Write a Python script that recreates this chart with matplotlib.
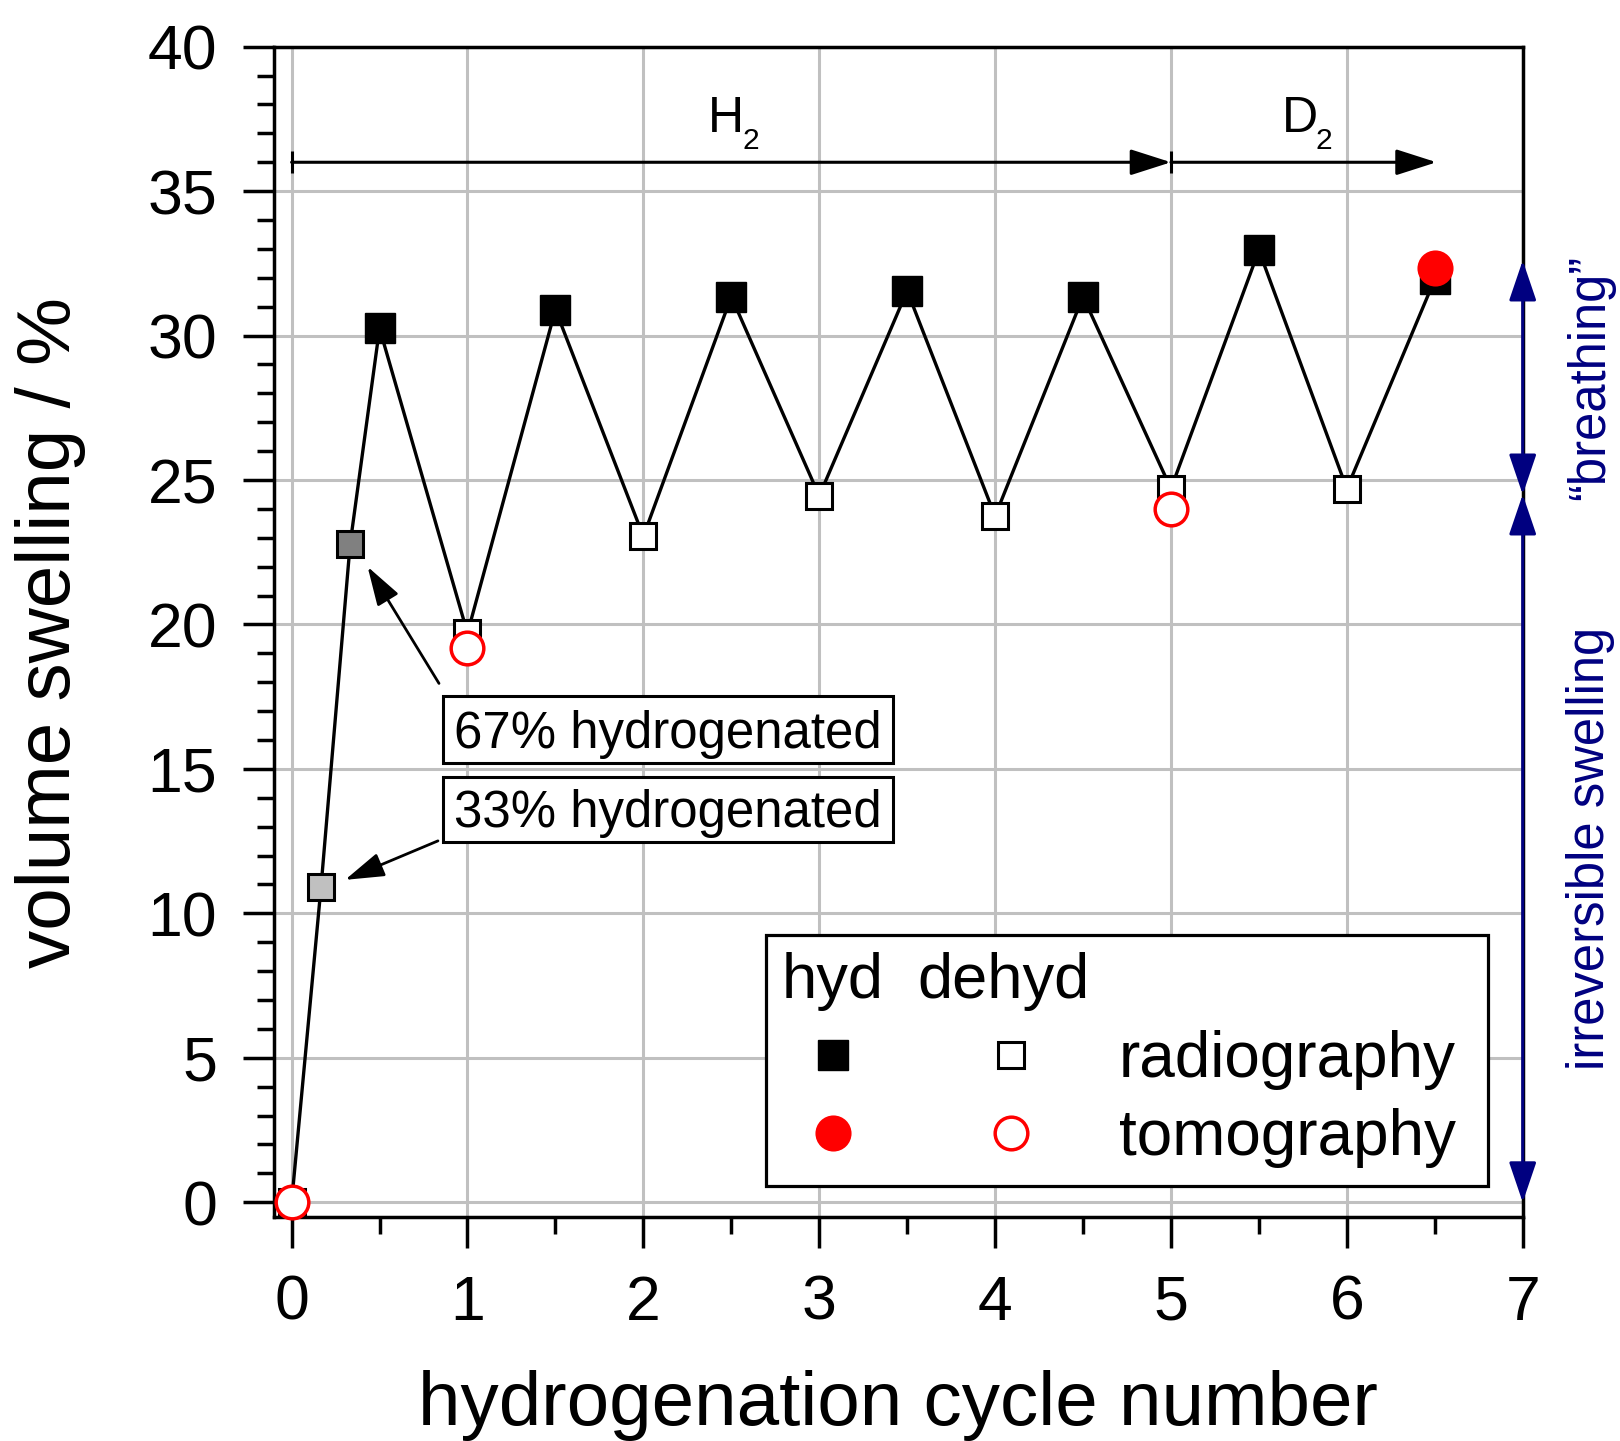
import matplotlib
matplotlib.use('Agg')
import matplotlib.pyplot as plt
from matplotlib.patches import Rectangle, ArrowStyle

plt.rcParams['font.family'] = ['Liberation Sans', 'DejaVu Sans']

# ---------------- data ----------------
hyd_cycle = [0.5, 1.5, 2.5, 3.5, 4.5, 5.5, 6.5]
hyd_radio = [30.25, 30.9, 31.35, 31.55, 31.35, 32.95, 31.95]
dehyd_cycle = [0, 1, 2, 3, 4, 5, 6]
dehyd_radio = [0, 19.7, 23.05, 24.45, 23.75, 24.7, 24.7]
partial_cycle = [0.167, 0.333]
partial_radio = [10.9, 22.8]
partial_colors = ['#C0C0C0', '#808080']
tomo_dehyd_cycle = [0, 1, 5]
tomo_dehyd = [0, 19.2, 24.0]
tomo_hyd_cycle = [6.5]
tomo_hyd = [32.35]

x_ticks = [0, 1, 2, 3, 4, 5, 6, 7]
y_ticks = [0, 5, 10, 15, 20, 25, 30, 35, 40]

NAVY = '#000080'

fig = plt.figure(figsize=(16.2, 14.41), dpi=100)
ax = fig.add_axes([0.16883, 0.15524, 0.77111, 0.81235])
ax.set_xlim(-0.103, 7)
ax.set_ylim(-0.52, 40)

# connecting line through radiography points in cycle order
pairs = sorted(zip(hyd_cycle + dehyd_cycle + partial_cycle,
                   hyd_radio + dehyd_radio + partial_radio))
ax.plot([p[0] for p in pairs], [p[1] for p in pairs], color='black', lw=2.4, zorder=3)

ax.plot(hyd_cycle, hyd_radio, ls='none', marker='s', ms=22, mfc='black', mec='black', mew=1, zorder=4)
ax.plot(dehyd_cycle, dehyd_radio, ls='none', marker='s', ms=19, mfc='white', mec='black', mew=2.2, zorder=4)
for xc, yc, col in zip(partial_cycle, partial_radio, partial_colors):
    ax.plot([xc], [yc], ls='none', marker='s', ms=19, mfc=col, mec='black', mew=2.2, zorder=4)
ax.plot(tomo_dehyd_cycle, tomo_dehyd, ls='none', marker='o', ms=23.5, mfc='white', mec='red', mew=2.5,
        zorder=5, clip_on=False)
ax.plot(tomo_hyd_cycle, tomo_hyd, ls='none', marker='o', ms=26, mfc='red', mec='red', mew=0, zorder=5)

# axes styling
ax.set_xticks(x_ticks)
ax.set_xticklabels([str(v) for v in x_ticks])
ax.set_yticks(y_ticks)
ax.set_yticklabels([str(v) for v in y_ticks])
ax.set_xticks([v + 0.5 for v in x_ticks[:-1]], minor=True)
ax.set_yticks([v for v in range(0, 41) if v % 5 != 0], minor=True)
ax.tick_params(which='both', direction='out', top=False, right=False, width=2.5, labelsize=45)
ax.tick_params(which='major', length=22.5)
ax.tick_params(which='minor', length=12.2)
ax.tick_params(axis='x', which='major', pad=18)
ax.tick_params(axis='y', which='major', pad=18)
ax.grid(True, which='major', color='#C0C0C0', lw=2.2)
ax.set_axisbelow(True)
for s in ax.spines.values():
    s.set_linewidth(2.5)

ax.set_xlabel('hydrogenation cycle number', fontsize=55, labelpad=27)
ax.set_ylabel('volume swelling / %', fontsize=55, labelpad=44)

# H2 / D2 arrows
head = ArrowStyle('-|>', head_length=25, head_width=8)
ax.annotate('', xy=(5, 36), xytext=(0, 36),
            arrowprops=dict(arrowstyle=head, color='black', lw=2.2, shrinkA=0, shrinkB=0, mutation_scale=1))
ax.annotate('', xy=(6.51, 36), xytext=(5, 36),
            arrowprops=dict(arrowstyle=head, color='black', lw=2.2, shrinkA=0, shrinkB=0, mutation_scale=1))
ax.plot([0, 5], [36, 36], ls='none', marker='|', ms=15.5, mew=2.2, color='black', zorder=3)
ax.text(2.366, 37.05, 'H', fontsize=36, ha='left', va='baseline')
ax.text(2.561, 36.45, '2', fontsize=21.5, ha='left', va='baseline')
ax.text(5.630, 37.05, 'D', fontsize=36, ha='left', va='baseline')
ax.text(5.823, 36.45, '2', fontsize=21.5, ha='left', va='baseline')

# partial hydrogenation annotations
ahead = ArrowStyle('-|>', head_length=24, head_width=7.5)
ax.annotate('', xy=(0.432, 22.0), xytext=(0.838, 17.96),
            arrowprops=dict(arrowstyle=ahead, color='black', lw=2.0, shrinkA=0, shrinkB=0, mutation_scale=1))
ax.annotate('', xy=(0.304, 11.16), xytext=(0.832, 12.51),
            arrowprops=dict(arrowstyle=ahead, color='black', lw=2.0, shrinkA=0, shrinkB=0, mutation_scale=1))
ax.add_patch(Rectangle((0.861, 15.22), 3.417 - 0.861, 17.53 - 15.22, fc='white', ec='black', lw=2.2, zorder=6))
ax.add_patch(Rectangle((0.861, 12.47), 3.417 - 0.861, 14.72 - 12.47, fc='white', ec='black', lw=2.2, zorder=6))
ax.text(0.921, 15.74, '67% hydrogenated', fontsize=36.7, ha='left', va='baseline', zorder=7)
ax.text(0.921, 13.0, '33% hydrogenated', fontsize=36.7, ha='left', va='baseline', zorder=7)

# right-side navy arrows
nhead = ArrowStyle('<|-|>', head_length=25, head_width=8.5)
ax.annotate('', xy=(7, 32.6), xytext=(7, 24.5), annotation_clip=False,
            arrowprops=dict(arrowstyle=nhead, color=NAVY, lw=2.2, shrinkA=0, shrinkB=0, mutation_scale=1,
                            clip_on=False, zorder=8))
ax.annotate('', xy=(7, 24.5), xytext=(7, 0), annotation_clip=False,
            arrowprops=dict(arrowstyle=nhead, color=NAVY, lw=2.2, shrinkA=0, shrinkB=0, mutation_scale=1,
                            clip_on=False, zorder=8))
ax.text(7.387, 28.55, '\u201cbreathing\u201d', fontsize=36.5, color=NAVY, rotation=90,
        ha='center', va='center', clip_on=False)
ax.text(7.387, 12.25, 'irreversible swelling', fontsize=36.5, color=NAVY, rotation=90,
        ha='center', va='center', clip_on=False)

# legend (manual layout)
ax.add_patch(Rectangle((0.394, 0.0267), 0.578, 0.2145, transform=ax.transAxes,
                       fc='white', ec='black', lw=2.3, zorder=7))
ax.text(0.407, 0.1873, 'hyd', fontsize=45.5, transform=ax.transAxes, ha='left', va='baseline', zorder=8)
ax.text(0.5155, 0.1873, 'dehyd', fontsize=45.5, transform=ax.transAxes, ha='left', va='baseline', zorder=8)
ax.plot([0.4477], [0.1387], transform=ax.transAxes, marker='s', ms=22, mfc='black', mec='black', mew=1,
        zorder=8, clip_on=False)
ax.plot([0.590], [0.1387], transform=ax.transAxes, marker='s', ms=19, mfc='white', mec='black', mew=2.2,
        zorder=8, clip_on=False)
ax.plot([0.4477], [0.0717], transform=ax.transAxes, marker='o', ms=26, mfc='red', mec='red', mew=0,
        zorder=8, clip_on=False)
ax.plot([0.590], [0.0717], transform=ax.transAxes, marker='o', ms=23.5, mfc='white', mec='red', mew=2.5,
        zorder=8, clip_on=False)
ax.text(0.6768, 0.1202, 'radiography', fontsize=46, transform=ax.transAxes, ha='left', va='baseline', zorder=8)
ax.text(0.6768, 0.0532, 'tomography', fontsize=46, transform=ax.transAxes, ha='left', va='baseline', zorder=8)

fig.savefig('out.png', dpi=100)
